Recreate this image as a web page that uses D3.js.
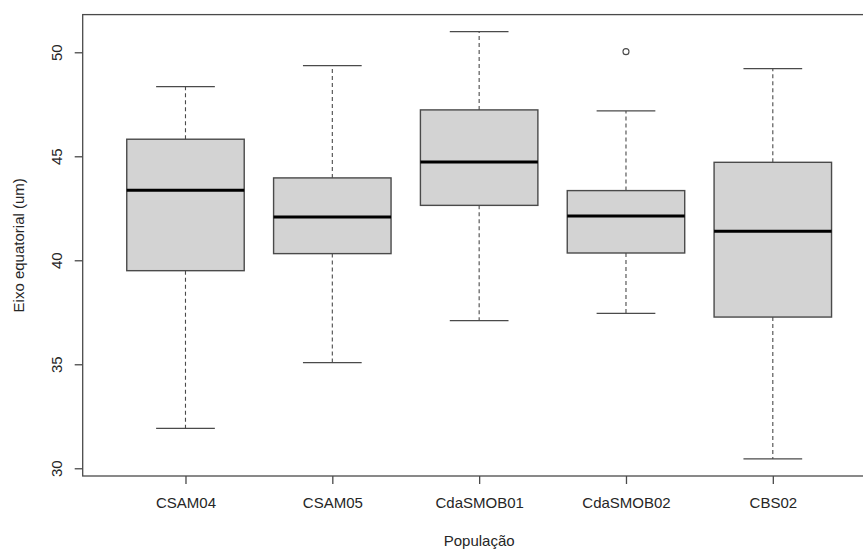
<!DOCTYPE html>
<html>
<head>
<meta charset="utf-8">
<script src="https://cdn.jsdelivr.net/npm/d3@7"></script>
<style>
  html, body { margin: 0; padding: 0; background: #ffffff; }
  svg { display: block; }
  text { font-family: "Liberation Sans", Arial, sans-serif; fill: #262626; }
</style>
</head>
<body>
<script>
// Five-number summaries per population (Eixo equatorial, um)
const categories   = ["CSAM04", "CSAM05", "CdaSMOB01", "CdaSMOB02", "CBS02"];
const lowerWhisker = [31.92, 35.08, 37.10, 37.45, 30.45];
const q1           = [39.50, 40.32, 42.64, 40.35, 37.27];
const median       = [43.37, 42.08, 44.73, 42.13, 41.39];
const q3           = [45.82, 43.96, 47.23, 43.35, 44.71];
const upperWhisker = [48.35, 49.36, 50.99, 47.18, 49.21];
const outliers     = [[], [], [], [50.03], []];
const yTicks       = [30, 35, 40, 45, 50];
const xTitle = "População";
const yTitle = "Eixo equatorial (um)";

const W = 863, H = 552;
const plot = { left: 82.7, top: 14.6, right: 875.6, bottom: 476 };

const svg = d3.select("body").append("svg")
  .attr("width", W).attr("height", H);

// x: positions 1..n, padded like R (0.5 margin + 4% extension)
const n = categories.length;
const xPad = 0.5 + 0.04 * n;
const x = d3.scaleLinear()
  .domain([1 - xPad, n + xPad])
  .range([plot.left, plot.right]);

// y: data range extended by 4% on each side
const allVals = lowerWhisker.concat(upperWhisker, outliers.flat());
const yMin = d3.min(allVals), yMax = d3.max(allVals);
const ext = (yMax - yMin) * 0.04;
const y = d3.scaleLinear()
  .domain([yMin - ext, yMax + ext])
  .range([plot.bottom, plot.top]);

const lineColor = "#4a4a4a";
const boxHalf = 0.4;      // box width 0.8 in category units
const capHalf = 0.2;      // staple half the box width

const rows = categories.map((c, i) => ({
  c, i: i + 1,
  lo: lowerWhisker[i], q1: q1[i], med: median[i], q3: q3[i], hi: upperWhisker[i],
  out: outliers[i]
}));

const g = svg.append("g");
const box = g.selectAll("g.box").data(rows).join("g").attr("class", "box");

// whiskers (dashed)
box.append("line")
  .attr("x1", d => x(d.i)).attr("x2", d => x(d.i))
  .attr("y1", d => y(d.q3)).attr("y2", d => y(d.hi))
  .attr("stroke", lineColor).attr("stroke-width", 1.1)
  .attr("stroke-dasharray", "4,3");
box.append("line")
  .attr("x1", d => x(d.i)).attr("x2", d => x(d.i))
  .attr("y1", d => y(d.q1)).attr("y2", d => y(d.lo))
  .attr("stroke", lineColor).attr("stroke-width", 1.1)
  .attr("stroke-dasharray", "4,3");

// staples
box.append("line")
  .attr("x1", d => x(d.i - capHalf)).attr("x2", d => x(d.i + capHalf))
  .attr("y1", d => y(d.hi)).attr("y2", d => y(d.hi))
  .attr("stroke", lineColor).attr("stroke-width", 1.3);
box.append("line")
  .attr("x1", d => x(d.i - capHalf)).attr("x2", d => x(d.i + capHalf))
  .attr("y1", d => y(d.lo)).attr("y2", d => y(d.lo))
  .attr("stroke", lineColor).attr("stroke-width", 1.3);

// boxes
box.append("rect")
  .attr("x", d => x(d.i - boxHalf))
  .attr("width", d => x(d.i + boxHalf) - x(d.i - boxHalf))
  .attr("y", d => y(d.q3))
  .attr("height", d => y(d.q1) - y(d.q3))
  .attr("fill", "#d3d3d3")
  .attr("stroke", lineColor).attr("stroke-width", 1.4);

// medians
box.append("line")
  .attr("x1", d => x(d.i - boxHalf)).attr("x2", d => x(d.i + boxHalf))
  .attr("y1", d => y(d.med)).attr("y2", d => y(d.med))
  .attr("stroke", "#000").attr("stroke-width", 3);

// outliers
box.selectAll("circle").data(d => d.out.map(v => ({ i: d.i, v }))).join("circle")
  .attr("cx", d => x(d.i)).attr("cy", d => y(d.v))
  .attr("r", 3)
  .attr("fill", "none").attr("stroke", lineColor).attr("stroke-width", 1.1);

// plot frame
svg.append("rect")
  .attr("x", plot.left).attr("y", plot.top)
  .attr("width", plot.right - plot.left).attr("height", plot.bottom - plot.top)
  .attr("fill", "none").attr("stroke", lineColor).attr("stroke-width", 1.3);

// y axis
const yAxis = d3.axisLeft(y).tickValues(yTicks).tickSize(8).tickSizeOuter(0)
  .tickFormat(d3.format("d"));
const ya = svg.append("g").attr("transform", `translate(${plot.left},0)`).call(yAxis);
ya.select(".domain").remove();
ya.selectAll(".tick line").attr("stroke", lineColor).attr("stroke-width", 1.3);
ya.selectAll(".tick text")
  .attr("font-size", 15).attr("fill", "#262626")
  .attr("x", null).attr("dy", null)
  .attr("text-anchor", "middle")
  .attr("transform", "translate(-21,0) rotate(-90)");

// x axis
const xAxis = d3.axisBottom(x).tickValues(rows.map(d => d.i)).tickSize(8)
  .tickFormat((d) => categories[d - 1]);
const xa = svg.append("g").attr("transform", `translate(0,${plot.bottom})`).call(xAxis);
xa.select(".domain").remove();
xa.selectAll(".tick line").attr("stroke", lineColor).attr("stroke-width", 1.3);
xa.selectAll(".tick text")
  .attr("font-size", 15).attr("fill", "#262626")
  .attr("y", 32).attr("dy", null);

// axis titles
svg.append("text")
  .attr("x", x((1 + n) / 2)).attr("y", 546)
  .attr("text-anchor", "middle").attr("font-size", 15)
  .text(xTitle);
svg.append("text")
  .attr("transform", `translate(23.5,${(plot.top + plot.bottom) / 2}) rotate(-90)`)
  .attr("text-anchor", "middle").attr("font-size", 15)
  .text(yTitle);
</script>
</body>
</html>
